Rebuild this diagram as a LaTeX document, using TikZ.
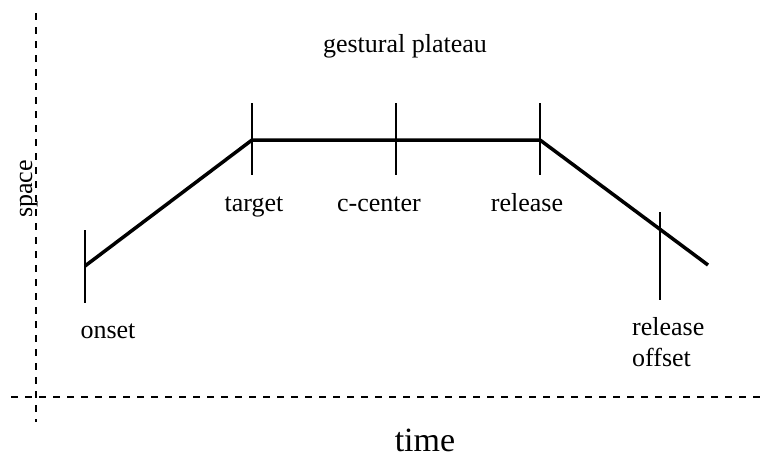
\documentclass[tikz,border=0pt]{standalone}
\usepackage{fontspec}
\setmainfont{Liberation Serif}
\tikzset{
  axis/.style={line width=1.8pt, dash pattern=on 7pt off 7pt},
  tick/.style={line width=1.6pt},
  path/.style={line width=3.5pt, line join=miter},
  lbl/.style={font=\fontsize{26}{31}\selectfont, inner sep=0pt, anchor=base},
}
\begin{document}
\begin{tikzpicture}[x=1pt,y=-1pt]
\useasboundingbox (0,0) rectangle (763,459);
% axes
\coordinate (ytop) at (36,13);
\coordinate (ybot) at (36,422);
\coordinate (xleft) at (11,397);
\coordinate (xright) at (763,397);
\draw[axis] (ytop) -- (ybot);
\draw[axis] (xleft) -- (xright);
\node[lbl, rotate=90] (space) at (32,189) {space};
\node[lbl, font=\fontsize{34}{40}\selectfont] (time) at (425,451) {time};
% trajectory
\coordinate (onset) at (85,266);
\coordinate (target) at (252,140);
\coordinate (ccenter) at (396,140);
\coordinate (release) at (540,140);
\coordinate (end) at (708,265);
\draw[path] (onset) -- (target) -- (release) -- (end);
% ticks
\draw[tick] (85,230) -- (85,303);
\draw[tick] (252,103) -- (252,175);
\draw[tick] (396,103) -- (396,175);
\draw[tick] (540,103) -- (540,175);
\draw[tick] (660,212) -- (660,300);
% labels
\node[lbl] (onsetlbl) at (108,338) {onset};
\node[lbl] (targetlbl) at (254,211) {target};
\node[lbl] (ccenterlbl) at (379,211) {c-center};
\node[lbl] (releaselbl) at (527,211) {release};
\node[lbl, anchor=base west] (offsetlbl) at (632,335) {release};
\node[lbl, anchor=base west] (offsetlbl2) at (632,366) {offset};
\node[lbl] (plateau) at (405,52) {gestural plateau};
\end{tikzpicture}
\end{document}
